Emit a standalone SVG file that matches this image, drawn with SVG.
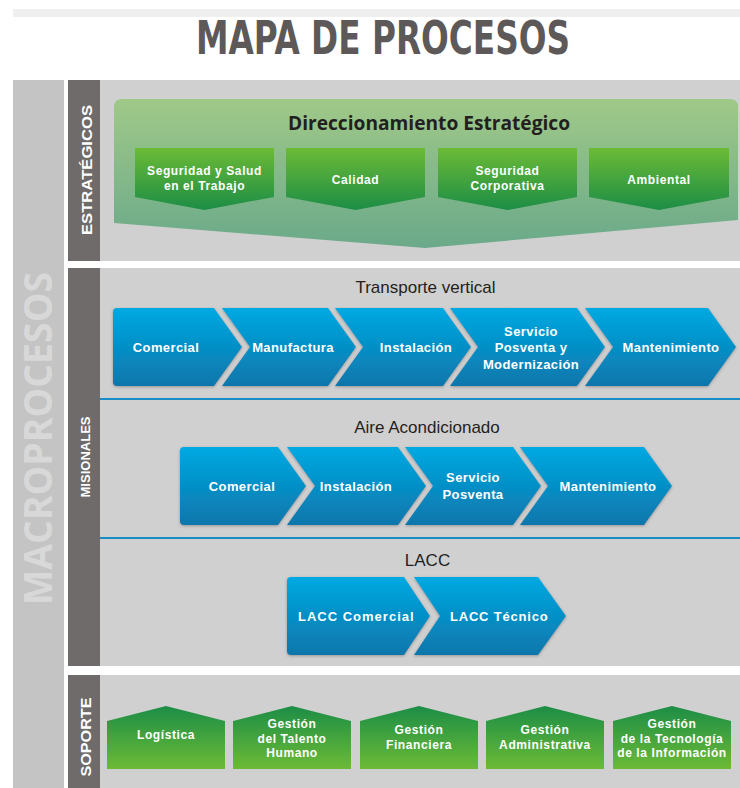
<svg xmlns="http://www.w3.org/2000/svg" width="740" height="788" viewBox="0 0 740 788">
  <defs>
    <linearGradient id="blue" x1="0" y1="0" x2="0" y2="1">
      <stop offset="0" stop-color="#00a9e2"/>
      <stop offset="1" stop-color="#0b76ab"/>
    </linearGradient>
    <linearGradient id="banner" x1="0" y1="0" x2="0" y2="1">
      <stop offset="0" stop-color="#a0c988"/>
      <stop offset="1" stop-color="#6aa98a"/>
    </linearGradient>
    <linearGradient id="gdown" x1="0" y1="0" x2="0" y2="1">
      <stop offset="0" stop-color="#6cbb36"/>
      <stop offset="1" stop-color="#1c8d46"/>
    </linearGradient>
    <linearGradient id="gup" x1="0" y1="0" x2="0" y2="1">
      <stop offset="0" stop-color="#1c8d46"/>
      <stop offset="1" stop-color="#6cbb36"/>
    </linearGradient>
    <filter id="sh" x="-10%" y="-10%" width="120%" height="125%">
      <feDropShadow dx="0" dy="1" stdDeviation="1.6" flood-color="#4a4a4a" flood-opacity="0.45"/>
    </filter>
  </defs>
  <style>
    .chev { fill: url(#blue); filter: url(#sh); }
    .ct { font-family: "Liberation Sans", Arial, sans-serif; font-weight: bold; font-size: 13px; letter-spacing: 0.4px; fill: #ffffff; text-anchor: middle; }
    .sub { font-family: "Liberation Sans", Arial, sans-serif; font-size: 17px; fill: #231f20; text-anchor: middle; }
    .gbox { fill: url(#gdown); }
    .sbox { fill: url(#gup); }
    .gt { font-family: "Liberation Sans", Arial, sans-serif; font-weight: bold; font-size: 12px; letter-spacing: 0.6px; fill: #ffffff; text-anchor: middle; }
    .vlab { font-family: "Liberation Sans", Arial, sans-serif; font-weight: bold; fill: #ffffff; text-anchor: middle; }
    .strip { fill: #6e6b6a; }
    .bg { fill: #d0d0d0; }
    .sep { stroke: #1a8dc6; stroke-width: 2; }
  </style>

  <rect width="740" height="788" fill="#ffffff"/>

  <!-- header -->
  <rect x="13" y="9" width="727" height="8" fill="#efefef"/>
  <text x="383" y="54" font-family="'DejaVu Sans', 'Liberation Sans', sans-serif" font-weight="bold" font-size="46" font-stretch="condensed" fill="#5d5958" text-anchor="middle" textLength="374" lengthAdjust="spacingAndGlyphs">MAPA DE PROCESOS</text>

  <!-- macroprocesos column -->
  <g id="macroprocesos">
    <rect x="13" y="80" width="51" height="708" fill="#c4c4c4"/>
    <text transform="translate(52,438.5) rotate(-90)" font-family="'Open Sans', 'Liberation Sans', sans-serif" font-weight="bold" font-size="40" fill="#d8d8d8" text-anchor="middle" textLength="333" lengthAdjust="spacingAndGlyphs">MACROPROCESOS</text>
  </g>

  <!-- section backgrounds -->
  <g id="section-estrategicos">
    <rect class="strip" x="68" y="80" width="32" height="181"/>
    <rect class="bg" x="100" y="80" width="640" height="181"/>
    <text class="vlab" transform="translate(92,170) rotate(-90)" font-size="15" textLength="130" lengthAdjust="spacingAndGlyphs">ESTRATÉGICOS</text>
  </g>
  <g id="section-misionales">
    <rect class="strip" x="68" y="268" width="32" height="398"/>
    <rect class="bg" x="100" y="268" width="640" height="398"/>
    <text class="vlab" transform="translate(90,457) rotate(-90)" font-size="13" textLength="81" lengthAdjust="spacingAndGlyphs">MISIONALES</text>
  </g>
  <g id="section-soporte">
    <rect class="strip" x="68" y="675" width="32" height="113"/>
    <rect class="bg" x="100" y="675" width="640" height="113"/>
    <text class="vlab" transform="translate(91,737) rotate(-90)" font-size="15" textLength="79" lengthAdjust="spacingAndGlyphs">SOPORTE</text>
  </g>

  <!-- strategic processes -->
  <g id="direccionamiento">
    <path d="M122,99 L730,99 Q738,99 738,107 L738,220 L425,248 L114,223 L114,107 Q114,99 122,99 Z" fill="url(#banner)"/>
    <text x="429" y="130" font-family="'Open Sans', 'Liberation Sans', sans-serif" font-weight="bold" font-size="19" fill="#231f20" text-anchor="middle" textLength="282" lengthAdjust="spacingAndGlyphs">Direccionamiento Estratégico</text>
  </g>
  <g id="sst">
    <path class="gbox" d="M135,148 L274,148 L274,197 L204.5,210 L135,197 Z"/>
    <text class="gt" x="204.5" y="175">Seguridad y Salud</text>
    <text class="gt" x="204.5" y="190">en el Trabajo</text>
  </g>
  <g id="calidad">
    <path class="gbox" d="M286,148 L425,148 L425,197 L355.5,210 L286,197 Z"/>
    <text class="gt" x="355.5" y="184">Calidad</text>
  </g>
  <g id="seguridad-corporativa">
    <path class="gbox" d="M438,148 L577,148 L577,197 L507.5,210 L438,197 Z"/>
    <text class="gt" x="507.5" y="175">Seguridad</text>
    <text class="gt" x="507.5" y="190">Corporativa</text>
  </g>
  <g id="ambiental">
    <path class="gbox" d="M589,148 L729,148 L729,197 L659,210 L589,197 Z"/>
    <text class="gt" x="659" y="184">Ambiental</text>
  </g>

  <!-- separators inside misionales -->
  <g id="separators">
    <line class="sep" x1="100" y1="399" x2="740" y2="399"/>
    <line class="sep" x1="100" y1="538" x2="740" y2="538"/>
  </g>

  <!-- transporte vertical -->
  <text class="sub" x="425.5" y="293">Transporte vertical</text>
  <g id="tv-comercial">
    <path class="chev" d="M117,308 L214,308 L242,347 L214,386 L117,386 Q113,386 113,382 L113,312 Q113,308 117,308 Z"/>
    <text class="ct" x="166" y="352">Comercial</text>
  </g>
  <g id="tv-manufactura">
    <path class="chev" d="M222,308 L328,308 L356,347 L328,386 L222,386 L250,347 Z"/>
    <text class="ct" x="293" y="352">Manufactura</text>
  </g>
  <g id="tv-instalacion">
    <path class="chev" d="M335,308 L443,308 L471,347 L443,386 L335,386 L363,347 Z"/>
    <text class="ct" x="416" y="352">Instalación</text>
  </g>
  <g id="tv-servicio">
    <path class="chev" d="M450,308 L577,308 L605,347 L577,386 L450,386 L478,347 Z"/>
    <text class="ct" x="531" y="336">Servicio</text>
    <text class="ct" x="531" y="352">Posventa y</text>
    <text class="ct" x="531" y="369">Modernización</text>
  </g>
  <g id="tv-mantenimiento">
    <path class="chev" d="M585,308 L708,308 L736,347 L708,386 L585,386 L613,347 Z"/>
    <text class="ct" x="671" y="352">Mantenimiento</text>
  </g>

  <!-- aire acondicionado -->
  <text class="sub" x="427" y="433">Aire Acondicionado</text>
  <g id="aa-comercial">
    <path class="chev" d="M184,447 L278,447 L306,486 L278,525 L184,525 Q180,525 180,521 L180,451 Q180,447 184,447 Z"/>
    <text class="ct" x="242" y="491">Comercial</text>
  </g>
  <g id="aa-instalacion">
    <path class="chev" d="M287,447 L398,447 L426,486 L398,525 L287,525 L315,486 Z"/>
    <text class="ct" x="356" y="491">Instalación</text>
  </g>
  <g id="aa-servicio">
    <path class="chev" d="M405,447 L513,447 L541,486 L513,525 L405,525 L433,486 Z"/>
    <text class="ct" x="473" y="482">Servicio</text>
    <text class="ct" x="473" y="499">Posventa</text>
  </g>
  <g id="aa-mantenimiento">
    <path class="chev" d="M520,447 L644,447 L672,486 L644,525 L520,525 L548,486 Z"/>
    <text class="ct" x="608" y="491">Mantenimiento</text>
  </g>

  <!-- lacc -->
  <text class="sub" x="427.5" y="566">LACC</text>
  <g id="lacc-comercial">
    <path class="chev" d="M291,577 L404,577 L430,616 L404,655 L291,655 Q287,655 287,651 L287,581 Q287,577 291,577 Z"/>
    <text class="ct" x="356" y="621" textLength="116">LACC Comercial</text>
  </g>
  <g id="lacc-tecnico">
    <path class="chev" d="M414,577 L538,577 L566,616 L538,655 L414,655 L440,616 Z"/>
    <text class="ct" x="499" y="621" textLength="98">LACC Técnico</text>
  </g>

  <!-- support processes -->
  <g id="logistica">
    <path class="sbox" d="M107,721 L166,706 L225,721 L225,769 L107,769 Z"/>
    <text class="gt" x="166" y="739">Logística</text>
  </g>
  <g id="talento-humano">
    <path class="sbox" d="M233,721 L292,706 L351,721 L351,769 L233,769 Z"/>
    <text class="gt" x="292" y="728">Gestión</text>
    <text class="gt" x="292" y="743">del Talento</text>
    <text class="gt" x="292" y="757">Humano</text>
  </g>
  <g id="financiera">
    <path class="sbox" d="M360,721 L419,706 L478,721 L478,769 L360,769 Z"/>
    <text class="gt" x="419" y="734">Gestión</text>
    <text class="gt" x="419" y="749">Financiera</text>
  </g>
  <g id="administrativa">
    <path class="sbox" d="M486,721 L545,706 L604,721 L604,769 L486,769 Z"/>
    <text class="gt" x="545" y="734">Gestión</text>
    <text class="gt" x="545" y="749">Administrativa</text>
  </g>
  <g id="tecnologia">
    <path class="sbox" d="M613,721 L672,706 L731,721 L731,769 L613,769 Z"/>
    <text class="gt" x="672" y="728">Gestión</text>
    <text class="gt" x="672" y="743">de la Tecnología</text>
    <text class="gt" x="672" y="757">de la Información</text>
  </g>
</svg>
